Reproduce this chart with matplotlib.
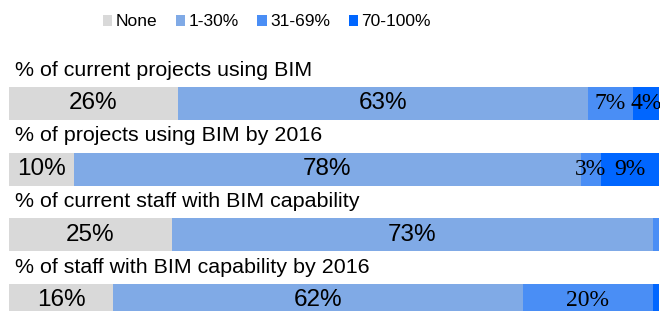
import numpy as np
import matplotlib.pyplot as plt
from matplotlib.patches import Patch

# rows (top to bottom) and the four share bands
questions = ['% of current projects using BIM',
             '% of projects using BIM by 2016',
             '% of current staff with BIM capability',
             '% of staff with BIM capability by 2016']
bands = ['None', '1-30%', '31-69%', '70-100%']
colors = ['#d9d9d9', '#80aae6', '#4a8ef5', '#0066ff']

none_vals = [26, 10, 25, 16]
low_vals = [63, 78, 74, 63]
mid_vals = [7, 3, 1, 20]
high_vals = [4, 9, 0, 1]

none_labels = ['26%', '10%', '25%', '16%']
low_labels = ['63%', '78%', '73%', '62%']
mid_labels = ['7%', '3%', '', '20%']
high_labels = ['4%', '9%', '', '']

plt.rcParams['font.family'] = ['Liberation Sans', 'DejaVu Sans']

fig = plt.figure(figsize=(6.6, 3.11), dpi=100)
ax = fig.add_axes([9/660, 0, 650/660, 1])

y = np.arange(len(questions))
series = [none_vals, low_vals, mid_vals, high_vals]
labels = [none_labels, low_labels, mid_labels, high_labels]
left = np.zeros(len(questions))
for k in range(4):
    vals = np.array(series[k], dtype=float)
    ax.barh(y, vals, left=left, height=0.5, color=colors[k], edgecolor='none')
    for i in range(len(questions)):
        if labels[k][i] == '':
            continue
        if k < 2:
            ax.text(left[i] + vals[i]/2, y[i], labels[k][i], ha='center', va='center',
                    fontsize=17.5, family='Liberation Sans', color='black')
        else:
            ax.text(left[i] + vals[i]/2, y[i], labels[k][i], ha='center', va='center',
                    fontsize=17, family='Liberation Serif', color='black')
    left = left + vals

for i in range(len(questions)):
    ax.text(0.9, y[i] - 0.51, questions[i], ha='left', va='center', fontsize=15.4)

ax.set_xlim(0, 100)
ax.set_ylim(3.16, -1.576)
ax.axis('off')

handles = [Patch(facecolor=colors[k], edgecolor='none', label=bands[k]) for k in range(4)]
fig.legend(handles=handles, loc='center', bbox_to_anchor=(267/660, 1 - 22/311), ncol=4,
           frameon=False, fontsize=12.5,
           handlelength=0.55, handleheight=0.65,
           handletextpad=0.2, columnspacing=1.05, borderaxespad=0)

fig.savefig('out.png', dpi=100)
